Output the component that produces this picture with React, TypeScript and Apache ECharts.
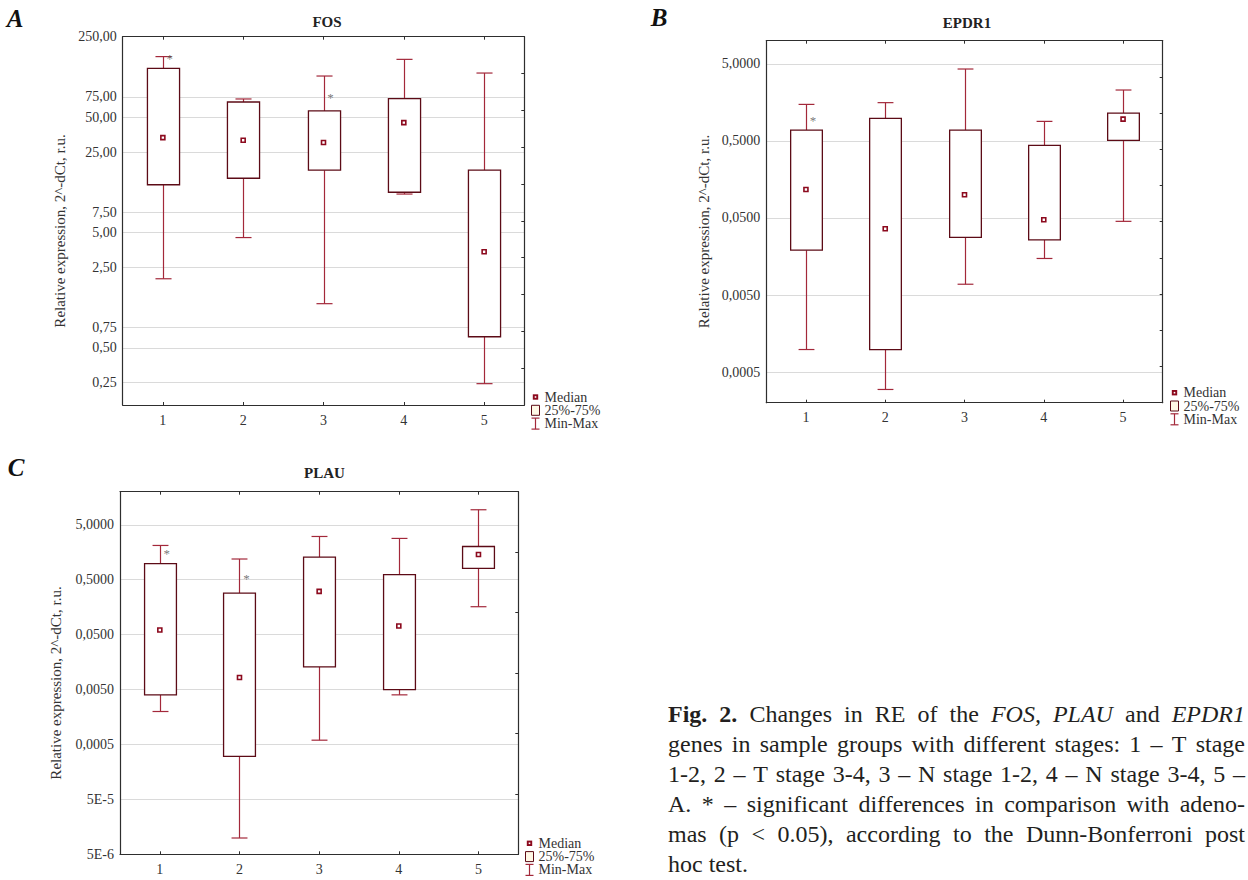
import React, { useEffect, useRef } from "react";
import * as echarts from "echarts";

// ---------- data ----------
const GROUPS = ["1", "2", "3", "4", "5"];

// FOS (panel A)
const FOS_MIN = [1.99, 4.53, 1.21, 10.8, 0.245];
const FOS_Q1 = [13.0, 14.8, 17.4, 11.2, 0.625];
const FOS_MED = [33.3, 31.6, 30.2, 45.0, 3.41];
const FOS_Q3 = [133, 67.9, 56.8, 72.6, 17.4];
const FOS_MAX = [168, 72.1, 114, 159, 121];
const FOS_STARS = [[0, 167], [2, 78]];
const FOS_TICKS = [0.25, 0.5, 0.75, 2.5, 5, 7.5, 25, 50, 75, 250];
const FOS_TICK_LABELS = ["0,25", "0,50", "0,75", "2,50", "5,00", "7,50", "25,00", "50,00", "75,00", "250,00"];

// EPDR1 (panel B)
const EPDR1_MIN = [0.00098, 0.000297, 0.0069, 0.0149, 0.0452];
const EPDR1_Q1 = [0.0191, 0.00098, 0.028, 0.026, 0.508];
const EPDR1_MED = [0.117, 0.0362, 0.1, 0.0473, 0.96];
const EPDR1_Q3 = [0.692, 0.98, 0.692, 0.438, 1.15];
const EPDR1_MAX = [1.49, 1.57, 4.29, 0.897, 2.29];
const EPDR1_STARS = [[0, 0.98]];
const EPDR1_TICKS = [0.0005, 0.005, 0.05, 0.5, 5];
const EPDR1_TICK_LABELS = ["0,0005", "0,0050", "0,0500", "0,5000", "5,0000"];

// PLAU (panel C)
const PLAU_MIN = [0.00199, 0.0000099, 0.000598, 0.004, 0.161];
const PLAU_Q1 = [0.00399, 0.000303, 0.0129, 0.005, 0.802];
const PLAU_MED = [0.0607, 0.00826, 0.306, 0.0716, 1.44];
const PLAU_Q3 = [0.977, 0.285, 1.29, 0.617, 2.01];
const PLAU_MAX = [2.1, 1.19, 3.06, 2.82, 9.38];
const PLAU_STARS = [[0, 1.66], [1, 0.574]];
const PLAU_TICKS = [0.000005, 0.00005, 0.0005, 0.005, 0.05, 0.5, 5];
const PLAU_TICK_LABELS = ["5E-6", "5E-5", "0,0005", "0,0050", "0,0500", "0,5000", "5,0000"];

const LEGEND_LABELS = ["Median", "25%-75%", "Min-Max"];
const Y_NAME = "Relative expression, 2^-dCt, r.u.";

// caption lines: [word, style] (b = bold, i = italic, n = normal)
const CAPTION_LINES: [string, string][][] = [
  [["Fig.", "b"], ["2.", "b"], ["Changes", "n"], ["in", "n"], ["RE", "n"], ["of", "n"], ["the", "n"], ["FOS,", "i"], ["PLAU", "i"], ["and", "n"], ["EPDR1", "i"]],
  "genes in sample groups with different stages: 1 – T stage".split(" ").map((w) => [w, "n"] as [string, string]),
  "1-2, 2 – T stage 3-4, 3 – N stage 1-2, 4 – N stage 3-4, 5 –".split(" ").map((w) => [w, "n"] as [string, string]),
  "A. * – significant differences in comparison with adeno-".split(" ").map((w) => [w, "n"] as [string, string]),
  "mas (p < 0.05), according to the Dunn-Bonferroni post".split(" ").map((w) => [w, "n"] as [string, string]),
  "hoc test.".split(" ").map((w) => [w, "n"] as [string, string]),
];

// ---------- styles / layout ----------
const FONT = "Liberation Serif, Times New Roman, Times, serif";
const BOX = "#5c0b16";
const WHISK = "#a3283a";
const MED = "#8c0a1e";
const AXIS = "#2e2e2e";
const GRID = "#dadada";
const TXT = "#333333";

const PANELS = [
  {
    letter: "A", title: "FOS",
    grid: { left: 122.7, top: 36.7, width: 401.6, height: 368.3 },
    min: 0.16, max: 250, rightSteps: 10,
    ticks: FOS_TICKS, tickLabels: FOS_TICK_LABELS,
    mins: FOS_MIN, q1: FOS_Q1, med: FOS_MED, q3: FOS_Q3, maxs: FOS_MAX, stars: FOS_STARS,
    letterPos: [15, 18], titlePos: [327, 22], namePos: [60, 231], legendPos: [535.5, 397],
  },
  {
    letter: "B", title: "EPDR1",
    grid: { left: 766.3, top: 40.7, width: 396.4, height: 362 },
    min: 0.0002, max: 10, rightSteps: 10,
    ticks: EPDR1_TICKS, tickLabels: EPDR1_TICK_LABELS,
    mins: EPDR1_MIN, q1: EPDR1_Q1, med: EPDR1_MED, q3: EPDR1_Q3, maxs: EPDR1_MAX, stars: EPDR1_STARS,
    letterPos: [659, 17], titlePos: [967, 23.3], namePos: [704, 231.5], legendPos: [1174.5, 392.7],
  },
  {
    letter: "C", title: "PLAU",
    grid: { left: 120, top: 491.7, width: 398.3, height: 362.6 },
    min: 0.000004999, max: 20, rightSteps: 6,
    ticks: PLAU_TICKS, tickLabels: PLAU_TICK_LABELS,
    mins: PLAU_MIN, q1: PLAU_Q1, med: PLAU_MED, q3: PLAU_Q3, maxs: PLAU_MAX, stars: PLAU_STARS,
    letterPos: [16, 467.5], titlePos: [324.5, 472.8], namePos: [56, 683], legendPos: [529.5, 843.3],
  },
];

const CAP_SIZE = 24;
const CAP_LEFT = 668;
const CAP_RIGHT = 1245;
const CAP_BASE0 = 722;
const CAP_LEAD = 30;

function renderBox(params: any, api: any) {
  const idx = api.value(0);
  const pMin = api.coord([idx, api.value(1)]);
  const pQ1 = api.coord([idx, api.value(2)]);
  const pQ3 = api.coord([idx, api.value(4)]);
  const pMax = api.coord([idx, api.value(5)]);
  const band = api.size([1, 1], [idx, 1])[0];
  const boxW = band * 0.4;
  const capW = band * 0.2;
  const x = Math.round(pMin[0]) + 0.5;
  const ws = { stroke: WHISK, lineWidth: 1.2 };
  return {
    type: "group",
    children: [
      { type: "line", shape: { x1: x, y1: pQ3[1], x2: x, y2: pMax[1] }, style: ws },
      { type: "line", shape: { x1: x - capW / 2, y1: pMax[1], x2: x + capW / 2, y2: pMax[1] }, style: ws },
      { type: "line", shape: { x1: x, y1: pQ1[1], x2: x, y2: pMin[1] }, style: ws },
      { type: "line", shape: { x1: x - capW / 2, y1: pMin[1], x2: x + capW / 2, y2: pMin[1] }, style: ws },
      {
        type: "rect",
        shape: { x: x - boxW / 2, y: pQ3[1], width: boxW, height: pQ1[1] - pQ3[1] },
        style: { fill: "#ffffff", stroke: BOX, lineWidth: 1.3 },
      },
    ],
  };
}

function buildOption() {
  const grid: any[] = [];
  const xAxis: any[] = [];
  const yAxis: any[] = [];
  const series: any[] = [];
  const graphic: any[] = [];

  PANELS.forEach((p, i) => {
    grid.push({ left: p.grid.left, top: p.grid.top, width: p.grid.width, height: p.grid.height });
    const axisLine = { show: true, onZero: false, lineStyle: { color: AXIS, width: 1.2 } };
    xAxis.push({
      type: "category", gridIndex: i, data: GROUPS, position: "bottom", boundaryGap: true,
      axisLine,
      axisTick: { show: true, inside: true, alignWithLabel: true, length: 3, lineStyle: { color: AXIS } },
      axisLabel: { color: TXT, fontSize: 14, fontFamily: FONT, margin: 8 },
      splitLine: { show: false },
    });
    xAxis.push({
      type: "category", gridIndex: i, data: GROUPS, position: "top", boundaryGap: true,
      axisLine,
      axisTick: { show: true, inside: true, alignWithLabel: true, length: 3, lineStyle: { color: AXIS } },
      axisLabel: { show: false },
      splitLine: { show: false },
    });
    const ticks = p.ticks;
    const labels = p.tickLabels;
    yAxis.push({
      type: "log", logBase: 10, gridIndex: i, position: "left", min: p.min, max: p.max,
      axisLine,
      axisTick: { show: false, customValues: ticks },
      axisLabel: {
        customValues: ticks,
        color: TXT, fontSize: 14, fontFamily: FONT, margin: 6,
        formatter: (v: number) => {
          const k = ticks.findIndex((t) => Math.abs(t - v) / t < 1e-4);
          return k >= 0 ? labels[k] : "";
        },
      },
      splitLine: { show: true, lineStyle: { color: GRID, width: 1 } },
    });
    yAxis.push({
      type: "value", gridIndex: i, position: "right", min: 0, max: p.rightSteps, interval: 1,
      axisLine,
      axisTick: { show: true, inside: true, length: 3, lineStyle: { color: AXIS } },
      axisLabel: { show: false },
      splitLine: { show: false },
    });

    const xi = i * 2;
    const yi = i * 2;
    series.push({
      type: "custom", xAxisIndex: xi, yAxisIndex: yi,
      data: GROUPS.map((_, k) => [k, p.mins[k], p.q1[k], p.med[k], p.q3[k], p.maxs[k]]),
      encode: { x: 0, y: [1, 2, 3, 4, 5] },
      renderItem: renderBox, z: 2, silent: true,
    });
    series.push({
      type: "scatter", xAxisIndex: xi, yAxisIndex: yi,
      data: GROUPS.map((_, k) => [k, p.med[k]]),
      symbol: "rect", symbolSize: 4,
      itemStyle: { color: "#ffffff", borderColor: MED, borderWidth: 1.6, opacity: 1 },
      z: 3, silent: true,
    });
    series.push({
      type: "scatter", xAxisIndex: xi, yAxisIndex: yi,
      data: p.stars,
      symbol: "circle", symbolSize: 1,
      itemStyle: { color: "rgba(0,0,0,0)" },
      label: { show: true, formatter: "*", position: "inside", offset: [7, 2], fontSize: 13, color: "#555555", fontFamily: FONT },
      z: 4, silent: true,
    });

    // panel letter
    graphic.push({
      type: "text", x: p.letterPos[0], y: p.letterPos[1],
      style: { text: p.letter, fontSize: 25, fontWeight: "bold", fontStyle: "italic", fontFamily: FONT, fill: "#111111", align: "center", verticalAlign: "middle" },
    });
    // title
    graphic.push({
      type: "text", x: p.titlePos[0], y: p.titlePos[1],
      style: { text: p.title, fontSize: 15, fontWeight: "bold", fontFamily: FONT, fill: "#222222", align: "center", verticalAlign: "middle" },
    });
    // y axis name
    graphic.push({
      type: "text", x: p.namePos[0], y: p.namePos[1], rotation: Math.PI / 2,
      style: { text: Y_NAME, fontSize: 15, fontFamily: FONT, fill: TXT, align: "center", verticalAlign: "middle" },
    });
    // legend
    const [sx, sy] = p.legendPos;
    const gap = 13.3;
    graphic.push({ type: "rect", shape: { x: sx - 2.7, y: sy - 2.7, width: 5.4, height: 5.4 }, style: { fill: MED } });
    graphic.push({ type: "rect", shape: { x: sx - 0.8, y: sy - 0.8, width: 1.6, height: 1.6 }, style: { fill: "#ffffff" } });
    graphic.push({ type: "rect", shape: { x: sx - 4, y: sy + gap - 5, width: 8, height: 10 }, style: { fill: "#fff8e6", stroke: BOX, lineWidth: 1 } });
    const wy = sy + gap * 2;
    graphic.push({ type: "line", shape: { x1: sx, y1: wy - 5.5, x2: sx, y2: wy + 5.5 }, style: { stroke: WHISK, lineWidth: 1.2 } });
    graphic.push({ type: "line", shape: { x1: sx - 4, y1: wy - 5.5, x2: sx + 4, y2: wy - 5.5 }, style: { stroke: WHISK, lineWidth: 1.2 } });
    graphic.push({ type: "line", shape: { x1: sx - 4, y1: wy + 5.5, x2: sx + 4, y2: wy + 5.5 }, style: { stroke: WHISK, lineWidth: 1.2 } });
    LEGEND_LABELS.forEach((lab, r) => {
      graphic.push({
        type: "text", x: sx + 9, y: sy + gap * r,
        style: { text: lab, fontSize: 14, fontFamily: FONT, fill: TXT, align: "left", verticalAlign: "middle" },
      });
    });
  });

  // caption (justified)
  const canvas = document.createElement("canvas");
  const ctx = canvas.getContext("2d") as CanvasRenderingContext2D;
  const fontFor = (st: string) =>
    `${st === "i" ? "italic " : ""}${st === "b" ? "bold " : ""}${CAP_SIZE}px ${FONT}`;
  const measure = (t: string, st: string) => {
    ctx.font = fontFor(st);
    return ctx.measureText(t).width;
  };
  const spaceW = measure(" ", "n");
  CAPTION_LINES.forEach((line, li) => {
    const widths = line.map(([w, st]) => measure(w, st));
    const total = widths.reduce((a, b) => a + b, 0);
    const last = li === CAPTION_LINES.length - 1;
    const gapW = last ? spaceW : (CAP_RIGHT - CAP_LEFT - total) / (line.length - 1);
    let x = CAP_LEFT;
    const y = CAP_BASE0 + li * CAP_LEAD - CAP_SIZE * 0.34;
    line.forEach(([w, st], k) => {
      graphic.push({
        type: "text", x, y,
        style: {
          text: w, fontSize: CAP_SIZE, fontFamily: FONT,
          fontWeight: st === "b" ? "bold" : "normal",
          fontStyle: st === "i" ? "italic" : "normal",
          fill: "#231f20", align: "left", verticalAlign: "middle",
        },
      });
      x += widths[k] + gapW;
    });
  });

  return {
    animation: false,
    backgroundColor: "#ffffff",
    grid, xAxis, yAxis, series, graphic,
  };
}

export default function App() {
  const ref = useRef<HTMLDivElement>(null);
  useEffect(() => {
    if (!ref.current) return;
    const chart = echarts.init(ref.current, undefined, { renderer: "svg" });
    chart.setOption(buildOption() as any);
    return () => chart.dispose();
  }, []);
  return (
    <div
      ref={ref}
      style={{ position: "fixed", left: 0, top: 0, width: 1248, height: 880, background: "#fff" }}
    />
  );
}
